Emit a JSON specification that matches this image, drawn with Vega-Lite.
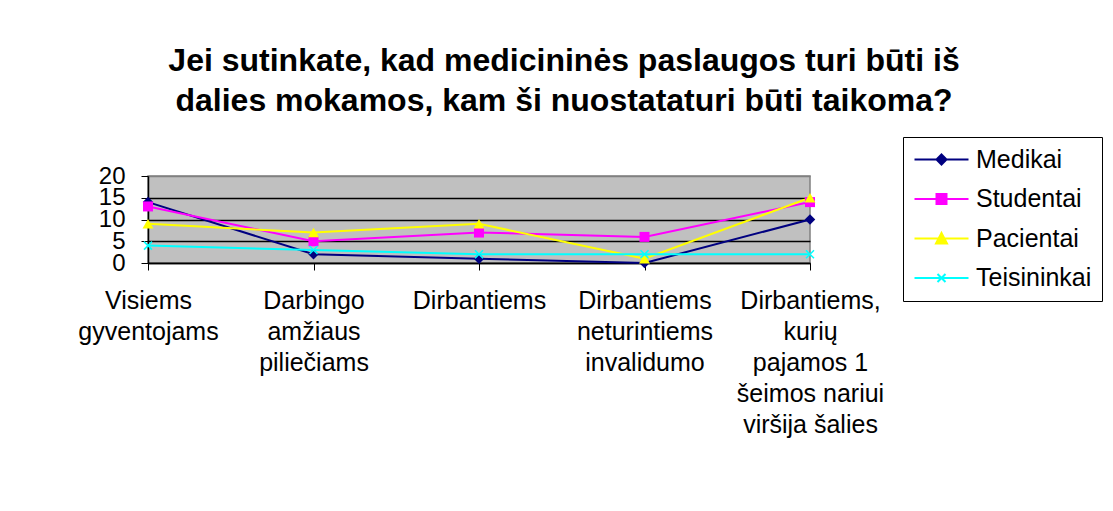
{
  "$schema": "https://vega.github.io/schema/vega-lite/v6.json",
  "width": 662,
  "height": 87,
  "autosize": {"type": "none"},
  "padding": {"left": 148, "top": 176, "right": 303, "bottom": 248},
  "background": "white",
  "title": {
    "text": ["Jei sutinkate, kad medicininės paslaugos turi būti iš", "dalies mokamos, kam ši nuostataturi būti taikoma?"],
    "font": "Liberation Sans",
    "fontSize": 32,
    "fontWeight": "bold",
    "color": "black",
    "lineHeight": 40,
    "anchor": "middle",
    "frame": "group",
    "dx": 85,
    "offset": 19
  },
  "data": {
    "values": [
      {"category": "Visiems gyventojams", "series": "Medikai", "value": 14},
      {"category": "Darbingo amžiaus piliečiams", "series": "Medikai", "value": 2},
      {"category": "Dirbantiems", "series": "Medikai", "value": 1},
      {"category": "Dirbantiems neturintiems invalidumo", "series": "Medikai", "value": 0},
      {"category": "Dirbantiems, kurių pajamos 1 šeimos nariui viršija šalies", "series": "Medikai", "value": 10},
      {"category": "Visiems gyventojams", "series": "Studentai", "value": 13},
      {"category": "Darbingo amžiaus piliečiams", "series": "Studentai", "value": 5},
      {"category": "Dirbantiems", "series": "Studentai", "value": 7},
      {"category": "Dirbantiems neturintiems invalidumo", "series": "Studentai", "value": 6},
      {"category": "Dirbantiems, kurių pajamos 1 šeimos nariui viršija šalies", "series": "Studentai", "value": 14},
      {"category": "Visiems gyventojams", "series": "Pacientai", "value": 9},
      {"category": "Darbingo amžiaus piliečiams", "series": "Pacientai", "value": 7},
      {"category": "Dirbantiems", "series": "Pacientai", "value": 9},
      {"category": "Dirbantiems neturintiems invalidumo", "series": "Pacientai", "value": 1},
      {"category": "Dirbantiems, kurių pajamos 1 šeimos nariui viršija šalies", "series": "Pacientai", "value": 15},
      {"category": "Visiems gyventojams", "series": "Teisininkai", "value": 4},
      {"category": "Darbingo amžiaus piliečiams", "series": "Teisininkai", "value": 3},
      {"category": "Dirbantiems", "series": "Teisininkai", "value": 2},
      {"category": "Dirbantiems neturintiems invalidumo", "series": "Teisininkai", "value": 2},
      {"category": "Dirbantiems, kurių pajamos 1 šeimos nariui viršija šalies", "series": "Teisininkai", "value": 2}
    ]
  },
  "encoding": {
    "x": {
      "field": "category",
      "type": "nominal",
      "sort": ["Visiems gyventojams", "Darbingo amžiaus piliečiams", "Dirbantiems", "Dirbantiems neturintiems invalidumo", "Dirbantiems, kurių pajamos 1 šeimos nariui viršija šalies"],
      "scale": {"type": "point", "padding": 0},
      "axis": {
        "title": null,
        "labelAngle": 0,
        "labelFont": "Liberation Sans",
        "labelFontSize": 25,
        "labelColor": "black",
        "labelLineHeight": 31,
        "labelPadding": 18,
        "labelBaseline": "top",
        "labelLimit": 400,
        "labelOverlap": false,
        "tickColor": "black",
        "tickSize": 7,
        "domainColor": "black",
        "domainWidth": 1.5,
        "grid": false,
        "labelExpr": "datum.value == 'Visiems gyventojams' ? ['Visiems', 'gyventojams'] : datum.value == 'Darbingo amžiaus piliečiams' ? ['Darbingo', 'amžiaus', 'piliečiams'] : datum.value == 'Dirbantiems neturintiems invalidumo' ? ['Dirbantiems', 'neturintiems', 'invalidumo'] : datum.value == 'Dirbantiems, kurių pajamos 1 šeimos nariui viršija šalies' ? ['Dirbantiems,', 'kurių', 'pajamos 1', 'šeimos nariui', 'viršija šalies'] : datum.label"
      }
    },
    "y": {
      "field": "value",
      "type": "quantitative",
      "scale": {"domain": [0, 20], "nice": false},
      "axis": {
        "title": null,
        "values": [0, 5, 10, 15, 20],
        "labelFont": "Liberation Sans",
        "labelFontSize": 24,
        "labelColor": "black",
        "labelPadding": 16,
        "labelOverlap": false,
        "labelBound": false,
        "tickColor": "black",
        "tickSize": 7,
        "domainColor": "black",
        "domainWidth": 1.5,
        "grid": true,
        "gridColor": {"condition": {"test": "datum.value === 20", "value": "#808080"}, "value": "black"},
        "gridWidth": 1.5,
        "gridOpacity": 1
      }
    }
  },
  "layer": [
    {
      "mark": {"type": "line", "strokeWidth": 2},
      "encoding": {
        "color": {
          "field": "series",
          "type": "nominal",
          "scale": {"domain": ["Medikai", "Studentai", "Pacientai", "Teisininkai"], "range": ["#000080", "#FF00FF", "#FFFF00", "#00FFFF"]},
          "legend": {
            "title": null,
            "orient": "none",
            "legendX": 755,
            "legendY": -39,
            "strokeColor": "black",
            "fillColor": "white",
            "padding": 10,
            "labelFont": "Liberation Sans",
            "labelFontSize": 25,
            "labelColor": "black",
            "symbolSize": 100,
            "symbolStrokeWidth": 2,
            "symbolOffset": 16,
            "labelOffset": 22,
            "rowPadding": 13.5,
            "labelLimit": 300,
            "encode": {
              "symbols": {
                "update": {
                  "shape": {"signal": "datum.value === 'Medikai' ? 'M-5.4,0H5.4M0,-1L1,0L0,1L-1,0Z' : datum.value === 'Studentai' ? 'M-5.4,0H5.4M-1,-1H1V1H-1Z' : datum.value === 'Pacientai' ? 'M-5.4,0H5.4M0,-1.1L1.1,1L-1.1,1Z' : 'M-5.4,0H5.4M-0.8,-0.8L0.8,0.8M-0.8,0.8L0.8,-0.8'"},
                  "fill": {"signal": "scale('color', datum.value)"},
                  "stroke": {"signal": "scale('color', datum.value)"},
                  "strokeWidth": {"value": 2},
                  "opacity": {"value": 1},
                  "fillOpacity": {"value": 1},
                  "strokeOpacity": {"value": 1}
                }
              }
            }
          }
        }
      }
    },
    {
      "transform": [{"filter": "datum.series === 'Medikai'"}],
      "mark": {"type": "point", "filled": true, "shape": "diamond", "size": 110, "color": "#000080", "opacity": 1}
    },
    {
      "transform": [{"filter": "datum.series === 'Studentai'"}],
      "mark": {"type": "point", "filled": true, "shape": "square", "size": 100, "color": "#FF00FF", "opacity": 1}
    },
    {
      "transform": [{"filter": "datum.series === 'Pacientai'"}],
      "mark": {"type": "point", "filled": true, "shape": "triangle-up", "size": 120, "color": "#FFFF00", "opacity": 1}
    },
    {
      "transform": [{"filter": "datum.series === 'Teisininkai'"}],
      "mark": {"type": "point", "filled": false, "shape": "M-0.8,-0.8L0.8,0.8M-0.8,0.8L0.8,-0.8", "size": 100, "color": "#00FFFF", "strokeWidth": 1.5, "opacity": 1}
    }
  ],
  "config": {
    "view": {"fill": "#C0C0C0", "stroke": "#808080", "strokeWidth": 1.5}
  }
}
